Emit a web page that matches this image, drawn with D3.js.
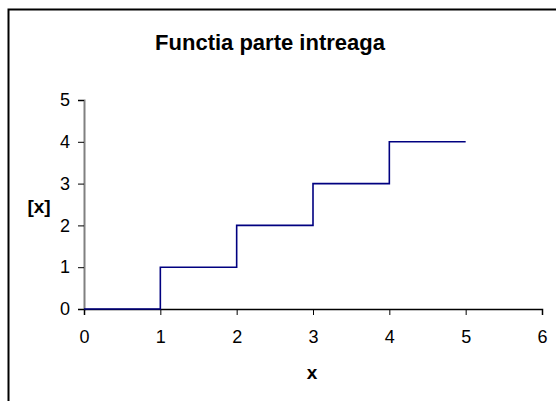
<!DOCTYPE html>
<html>
<head>
<meta charset="utf-8">
<script src="https://cdn.jsdelivr.net/npm/d3@7"></script>
<style>
  body { margin: 0; background: #fff; }
  text { font-family: Arial, "Liberation Sans", sans-serif; }
</style>
</head>
<body>
<script>
// step points of [x] on 0..5
var xs = [0, 1, 1, 2, 2, 3, 3, 4, 4, 5];
var ys = [0, 0, 1, 1, 2, 2, 3, 3, 4, 4];
var xTicks = [0, 1, 2, 3, 4, 5, 6];
var yTicks = [0, 1, 2, 3, 4, 5];

var W = 556, H = 401;
var svg = d3.select('body').append('svg').attr('width', W).attr('height', H);

// chart area border (runs off right/bottom)
svg.append('rect')
  .attr('x', 8.5).attr('y', 9.5)
  .attr('width', 600).attr('height', 500)
  .attr('fill', 'none').attr('stroke', '#000').attr('stroke-width', 2);

var x = d3.scaleLinear().domain([0, 6]).range([84, 542]);
var y = d3.scaleLinear().domain([0, 5]).range([309, 100]);

// title
svg.append('text').attr('x', 270).attr('y', 50)
  .attr('text-anchor', 'middle').style('font-weight', 'bold').style('font-size', '22px')
  .text('Functia parte intreaga');

// y axis
var yAxis = svg.append('g').attr('transform', 'translate(' + x(0) + ',0)')
  .call(d3.axisLeft(y).tickValues(yTicks).tickSize(6).tickPadding(8).tickFormat(d3.format('d')));
yAxis.select('.domain').attr('stroke', '#808080').attr('stroke-width', 2);
yAxis.selectAll('.tick line').attr('stroke', '#000');
yAxis.selectAll('text').attr('font-size', 18).style('font-size', '18px').attr('fill', '#000');

// x axis
var xAxis = svg.append('g').attr('transform', 'translate(0,' + y(0) + ')')
  .call(d3.axisBottom(x).tickValues(xTicks).tickSize(6).tickPadding(15).tickFormat(d3.format('d')));
xAxis.select('.domain').attr('stroke', '#000').attr('stroke-width', 1.5);
xAxis.selectAll('.tick line').attr('stroke', '#000');
xAxis.selectAll('text').attr('font-size', 18).style('font-size', '18px').attr('fill', '#000');

// axis titles
svg.append('text').attr('x', 312).attr('y', 379)
  .attr('text-anchor', 'middle').style('font-weight', 'bold').style('font-size', '19px')
  .text('x');
svg.append('text').attr('x', 39).attr('y', 213)
  .attr('text-anchor', 'middle').style('font-weight', 'bold').style('font-size', '19px')
  .text('[x]');

// line
var pts = xs.map(function(d, i){ return [d, ys[i]]; });
svg.append('path')
  .datum(pts)
  .attr('fill', 'none').attr('stroke', '#000080').attr('stroke-width', 1.6)
  .attr('d', d3.line().x(function(d){ return x(d[0]); }).y(function(d){ return y(d[1]); }));
</script>
</body>
</html>
